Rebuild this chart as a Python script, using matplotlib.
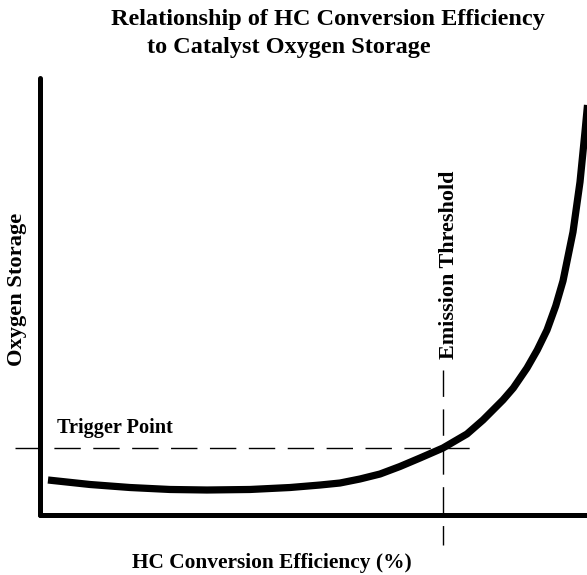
import numpy as np
import matplotlib
matplotlib.use('Agg')
import matplotlib.pyplot as plt

plt.rcParams['font.family'] = ['Liberation Serif', 'DejaVu Serif']
plt.rcParams['font.weight'] = 'bold'

# HC conversion efficiency (%) vs oxygen storage (relative units)
efficiency = [1.46, 9.14, 16.45, 23.77, 30.53, 38.39, 45.70, 51.19, 54.84, 58.50,
              62.16, 65.81, 69.47, 73.67, 78.06, 80.99, 84.64, 86.53, 89.03,
              90.91, 92.69, 94.28, 95.61, 97.44, 98.72, 99.63, 100.09]
storage = [8.01, 6.98, 6.29, 5.84, 5.72, 5.84, 6.29, 6.86, 7.32, 8.24,
           9.38, 11.10, 13.04, 15.33, 18.54, 21.74, 26.32, 29.06, 33.64,
           37.76, 42.33, 47.83, 53.55, 64.76, 76.20, 87.64, 93.82]

trigger_level = 15.3
emission_threshold = 73.7

fig = plt.figure(figsize=(5.87, 5.75), dpi=100)
ax = fig.add_axes([40/587, 60/575, 547/587, 437/575])

ax.plot(efficiency, storage, color='black', lw=5.2, solid_capstyle='butt',
        solid_joinstyle='round')

# dashed reference lines
ax.plot([-4.6, 78.6], [trigger_level, trigger_level], color='black', lw=1.0,
        dashes=(19, 9), clip_on=False)
ax.plot([emission_threshold, emission_threshold], [33.2, -6.9], color='black', lw=1.0,
        dashes=(19, 9), clip_on=False)

ax.text(3.1, 18.8, 'Trigger Point', fontsize=14.6, fontweight='bold', va='baseline')
ax.text(74.8, 57.2, 'Emission Threshold', fontsize=15.9, fontweight='bold',
        rotation=90, ha='center', va='center')

ax.set_xlim(0, 100)
ax.set_ylim(0, 100)
ax.set_xticks([])
ax.set_yticks([])
for s in ['top', 'right']:
    ax.spines[s].set_visible(False)
for s in ['left', 'bottom']:
    ax.spines[s].set_linewidth(3.6)
    ax.spines[s].set_capstyle('round')
    ax.spines[s].set_joinstyle('round')

fig.text(327.5/587, 1 - 20/575, 'Relationship of HC Conversion Efficiency',
         fontsize=17.5, fontweight='bold', ha='center', va='center')
fig.text(289/587, 1 - 48/575, 'to Catalyst Oxygen Storage',
         fontsize=17.5, fontweight='bold', ha='center', va='center')
fig.text(272/587, 1 - 563/575, 'HC Conversion Efficiency (%)',
         fontsize=15.4, fontweight='bold', ha='center', va='center')
fig.text(17/587, 1 - 289/575, 'Oxygen Storage', fontsize=16.2, fontweight='bold',
         rotation=90, ha='center', va='center')

fig.savefig('out.png', dpi=100)
